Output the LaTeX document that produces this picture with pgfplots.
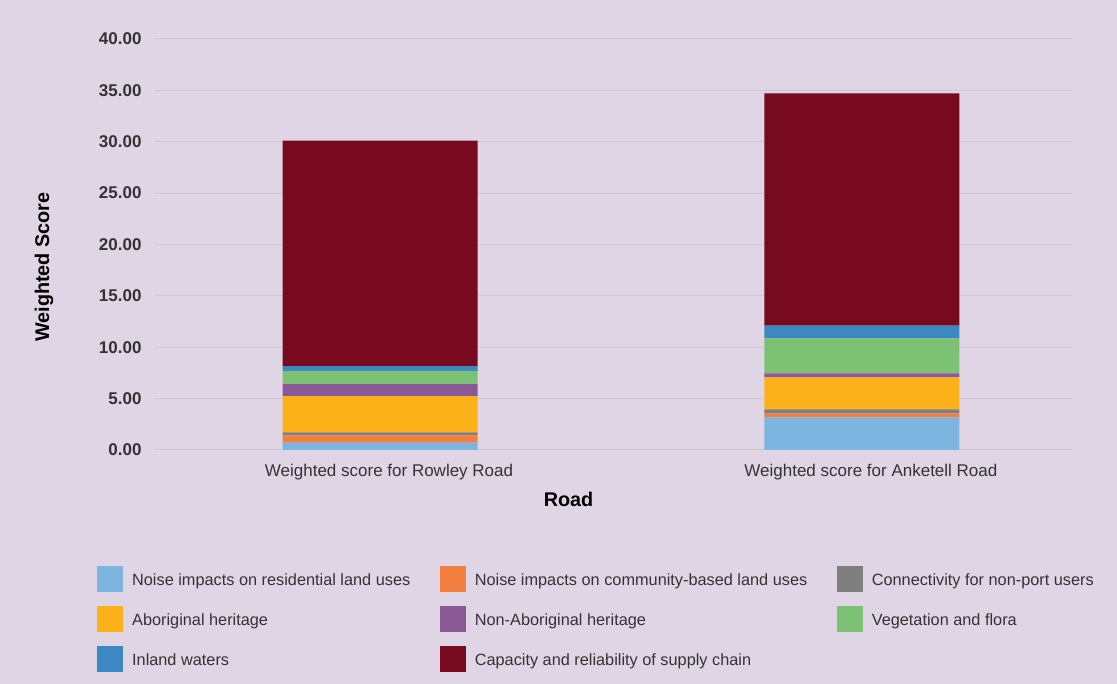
\documentclass[border=0pt]{standalone}
\usepackage{pgfplots}
\pgfplotsset{compat=1.18}
\usepackage{pgfplotstable}
\usepackage{fontspec}
\setmainfont{Liberation Sans}
\definecolor{bg}{HTML}{E0D5E5}
\definecolor{gridc}{HTML}{CBC8D8}
\definecolor{cres}{HTML}{7EB5E0}
\definecolor{ccom}{HTML}{F27F3D}
\definecolor{ccon}{HTML}{7F7F7F}
\definecolor{cabo}{HTML}{FDB119}
\definecolor{cnab}{HTML}{8B5A96}
\definecolor{cveg}{HTML}{7DC274}
\definecolor{cinl}{HTML}{3B88C3}
\definecolor{ccap}{HTML}{770A1F}
\definecolor{txt}{HTML}{333333}
\pgfplotstableread{
x res com con abo nab veg inl cap
0 0.71 0.72 0.29 3.53 1.17 1.29 0.46 21.93
1 3.18 0.39 0.39 3.11 0.39 3.41 1.23 22.60
}\datatab
\begin{document}
\begin{tikzpicture}
\useasboundingbox (0,0) rectangle (1117pt,684pt);
\fill[bg] (0,0) rectangle (1117pt,684pt);
\begin{axis}[
  at={(155pt,234pt)}, anchor=south west,
  scale only axis, width=917pt, height=411pt,
  ybar stacked, bar width=195pt,
  xmin=-0.467, xmax=1.436, ymin=0, ymax=40,
  ytick={0,5,...,40},
  xtick={0,1},
  xticklabels={Weighted score for Rowley Road, Weighted score for Anketell Road},
  axis x line*=bottom, axis y line*=left,
  x axis line style={draw=gridc, line width=1pt, -},
  y axis line style={draw=none},
  major tick length=0pt,
  ymajorgrids, grid style={gridc, line width=1pt},
  y tick label style={font=\fontsize{17}{20}\selectfont\bfseries, text=txt},
  yticklabel style={/pgf/number format/fixed, /pgf/number format/fixed zerofill, /pgf/number format/precision=2, /pgf/number format/assume math mode=true},
  yticklabel={\pgfmathprintnumber{\tick}},
  yticklabel shift=10pt,
  x tick label style={font=\fontsize{17}{20}\selectfont, text=txt, yshift=-11pt, xshift=9pt},
  xlabel={Road}, xlabel style={font=\fontsize{19.8}{23}\selectfont\bfseries, text=black, at={(axis description cs:0.451,-0.12)}, anchor=center},
  ylabel={Weighted Score}, ylabel style={font=\fontsize{19.8}{23}\selectfont\bfseries, text=black, at={(axis description cs:-0.121,0.445)}, anchor=center},
  legend columns=3,
  legend cell align=left,
  legend style={at={(axis description cs:-0.0633,-0.282)}, anchor=north west, draw=none, fill=none, inner sep=0pt,
    font=\fontsize{16.3}{19}\selectfont, text=txt, row sep=14pt,
    nodes={inner sep=0pt, anchor=west},
    /tikz/every odd column/.append style={column sep=9pt},
    /tikz/every even column/.append style={column sep=29.5pt}},
  legend image code/.code={\fill[#1] (0pt,-12pt) rectangle (26pt,14pt);},
]
\addplot[fill=cres, draw=none] table[x=x,y=res]{\datatab};
\addlegendentry{Noise impacts on residential land uses}
\addplot[fill=ccom, draw=none] table[x=x,y=com]{\datatab};
\addlegendentry{Noise impacts on community-based land uses}
\addplot[fill=ccon, draw=none] table[x=x,y=con]{\datatab};
\addlegendentry{Connectivity for non-port users}
\addplot[fill=cabo, draw=none] table[x=x,y=abo]{\datatab};
\addlegendentry{Aboriginal heritage}
\addplot[fill=cnab, draw=none] table[x=x,y=nab]{\datatab};
\addlegendentry{Non-Aboriginal heritage}
\addplot[fill=cveg, draw=none] table[x=x,y=veg]{\datatab};
\addlegendentry{Vegetation and flora}
\addplot[fill=cinl, draw=none] table[x=x,y=inl]{\datatab};
\addlegendentry{Inland waters}
\addplot[fill=ccap, draw=none] table[x=x,y=cap]{\datatab};
\addlegendentry{Capacity and reliability of supply chain}
\end{axis}
\end{tikzpicture}
\end{document}
